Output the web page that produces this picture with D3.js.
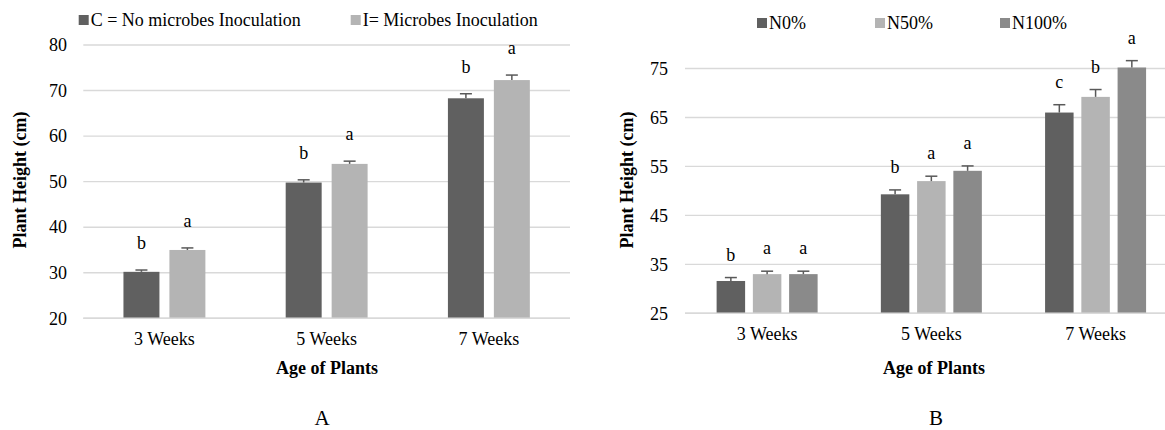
<!DOCTYPE html>
<html>
<head>
<meta charset="utf-8">
<script src="https://cdn.jsdelivr.net/npm/d3@7"></script>
<style>
  html, body { margin: 0; padding: 0; background: #fff; }
</style>
</head>
<body>
<svg id="chart" width="1165" height="430"></svg>
<script>
// ---------- DATA ----------
const categories = ["3 Weeks", "5 Weeks", "7 Weeks"];

// Panel A
const seriesA = ["C = No microbes Inoculation", "I= Microbes Inoculation"];
const valuesA_C = [30.2, 49.8, 68.3];
const valuesA_I = [35.0, 53.9, 72.3];
const errA_C = [0.4, 0.6, 1.0];
const errA_I = [0.45, 0.6, 1.1];
const lettersA_C = ["b", "b", "b"];
const lettersA_I = ["a", "a", "a"];
const ticksA = [20, 30, 40, 50, 60, 70, 80];

// Panel B
const seriesB = ["N0%", "N50%", "N100%"];
const valuesB_N0 = [31.6, 49.3, 66.0];
const valuesB_N50 = [33.0, 52.0, 69.2];
const valuesB_N100 = [33.0, 54.1, 75.2];
const errB_N0 = [0.7, 0.9, 1.6];
const errB_N50 = [0.6, 1.0, 1.5];
const errB_N100 = [0.6, 1.0, 1.4];
const lettersB_N0 = ["b", "b", "c"];
const lettersB_N50 = ["a", "a", "b"];
const lettersB_N100 = ["a", "a", "a"];
const ticksB = [25, 35, 45, 55, 65, 75];

const colorsA = ["#606060", "#b4b4b4"];
const colorsB = ["#606060", "#b4b4b4", "#8a8a8a"];

const FONT = "'Liberation Serif', 'Times New Roman', serif";

const svg = d3.select("#chart");

function txt(sel) {
  return sel.style("font-family", FONT).attr("fill", "#000");
}

function drawPanel(cfg) {
  const g = svg.append("g");
  const y = d3.scaleLinear().domain(cfg.yDomain).range([cfg.bottom, cfg.top]);
  const x0 = d3.scaleBand().domain(categories).range([cfg.left, cfg.right])
    .paddingInner(cfg.groupPad).paddingOuter(cfg.groupPad / 2);
  const x1 = d3.scaleBand().domain(cfg.series.map((d, i) => i))
    .range([0, x0.bandwidth()]).paddingInner(cfg.barPad).paddingOuter(0);

  // gridlines
  g.append("g").selectAll("line").data(cfg.ticks).join("line")
    .attr("x1", cfg.left).attr("x2", cfg.right)
    .attr("y1", d => y(d)).attr("y2", d => y(d))
    .attr("stroke", "#d9d9d9").attr("stroke-width", 1.4);

  // y tick labels
  const yAxis = d3.axisLeft(y).tickValues(cfg.ticks).tickSize(0).tickPadding(0);
  const ya = g.append("g").attr("transform", `translate(${cfg.tickX},0)`).call(yAxis);
  ya.attr("font-family", null);
  ya.select(".domain").remove();
  txt(ya.selectAll("text")).style("font-size", "18px");

  // x tick labels
  const xAxis = d3.axisBottom(x0).tickSize(0).tickPadding(0);
  const xa = g.append("g").attr("transform", `translate(0,${cfg.bottom + 14})`).call(xAxis);
  xa.attr("font-family", null);
  xa.select(".domain").remove();
  txt(xa.selectAll("text")).style("font-size", "18px");

  // bars
  cfg.series.forEach((s, si) => {
    const vals = cfg.values[si], errs = cfg.errs[si], lets = cfg.letters[si];
    const data = categories.map((c, ci) => ({ c, v: vals[ci], e: errs[ci], l: lets[ci] }));
    const bg = g.append("g");
    const cx = d => x0(d.c) + x1(si) + x1.bandwidth() / 2;
    bg.selectAll("rect").data(data).join("rect")
      .attr("x", d => x0(d.c) + x1(si))
      .attr("width", x1.bandwidth())
      .attr("y", d => y(d.v))
      .attr("height", d => y(cfg.yDomain[0]) - y(d.v))
      .attr("fill", cfg.colors[si]);
    bg.selectAll("line.eb").data(data).join("line").attr("class", "eb")
      .attr("x1", cx).attr("x2", cx)
      .attr("y1", d => y(d.v)).attr("y2", d => y(d.v + d.e))
      .attr("stroke", "#595959").attr("stroke-width", 1.5);
    bg.selectAll("line.cap").data(data).join("line").attr("class", "cap")
      .attr("x1", d => cx(d) - 6).attr("x2", d => cx(d) + 6)
      .attr("y1", d => y(d.v + d.e)).attr("y2", d => y(d.v + d.e))
      .attr("stroke", "#595959").attr("stroke-width", 1.5);
    txt(bg.selectAll("text").data(data).join("text"))
      .attr("x", cx)
      .attr("y", d => y(d.v + d.e) - cfg.letterOffset)
      .attr("text-anchor", "middle").style("font-size", "18px")
      .text(d => d.l);
  });

  // bottom axis line
  g.append("line").attr("x1", cfg.left).attr("x2", cfg.right)
    .attr("y1", y(cfg.yDomain[0])).attr("y2", y(cfg.yDomain[0]))
    .attr("stroke", "#d9d9d9").attr("stroke-width", 1.6);

  // y title
  txt(g.append("text"))
    .attr("transform", `translate(${cfg.yTitleX},${cfg.yTitleY}) rotate(-90)`)
    .attr("text-anchor", "middle").style("font-size", "18px").style("font-weight", "bold")
    .attr("dy", "0.35em")
    .text("Plant Height (cm)");
  // x title
  txt(g.append("text")).attr("x", cfg.xTitleX).attr("y", 374)
    .attr("text-anchor", "middle").style("font-size", "18px").style("font-weight", "bold")
    .text("Age of Plants");
  // panel letter
  txt(g.append("text")).attr("x", cfg.panelX).attr("y", 425)
    .attr("text-anchor", "middle").style("font-size", "21px")
    .text(cfg.panel);

  // legend
  cfg.series.forEach((s, si) => {
    const lx = cfg.legendX[si];
    g.append("rect").attr("x", lx - 12).attr("y", cfg.legendY - 11)
      .attr("width", 10).attr("height", 10).attr("fill", cfg.colors[si]);
    txt(g.append("text")).attr("x", lx).attr("y", cfg.legendY)
      .style("font-size", "18px").text(s);
  });
}

drawPanel({
  series: seriesA, values: [valuesA_C, valuesA_I], errs: [errA_C, errA_I],
  letters: [lettersA_C, lettersA_I], colors: colorsA, ticks: ticksA,
  yDomain: [20, 80], top: 45, bottom: 318.3, left: 83.3, right: 570,
  groupPad: 0.495, barPad: 0.217, tickX: 67, letterOffset: 21,
  yTitleX: 20, yTitleY: 180, xTitleX: 327, panelX: 322, panel: "A",
  legendX: [90.7, 362.7], legendY: 26
});

drawPanel({
  series: seriesB, values: [valuesB_N0, valuesB_N50, valuesB_N100],
  errs: [errB_N0, errB_N50, errB_N100],
  letters: [lettersB_N0, lettersB_N50, lettersB_N100], colors: colorsB, ticks: ticksB,
  yDomain: [25, 80], top: 44, bottom: 313.3, left: 685, right: 1177.7,
  groupPad: 0.385, barPad: 0.214, tickX: 668, letterOffset: 17,
  yTitleX: 627, yTitleY: 180, xTitleX: 934, panelX: 936, panel: "B",
  legendX: [769, 887, 1012], legendY: 29
});
</script>
</body>
</html>
